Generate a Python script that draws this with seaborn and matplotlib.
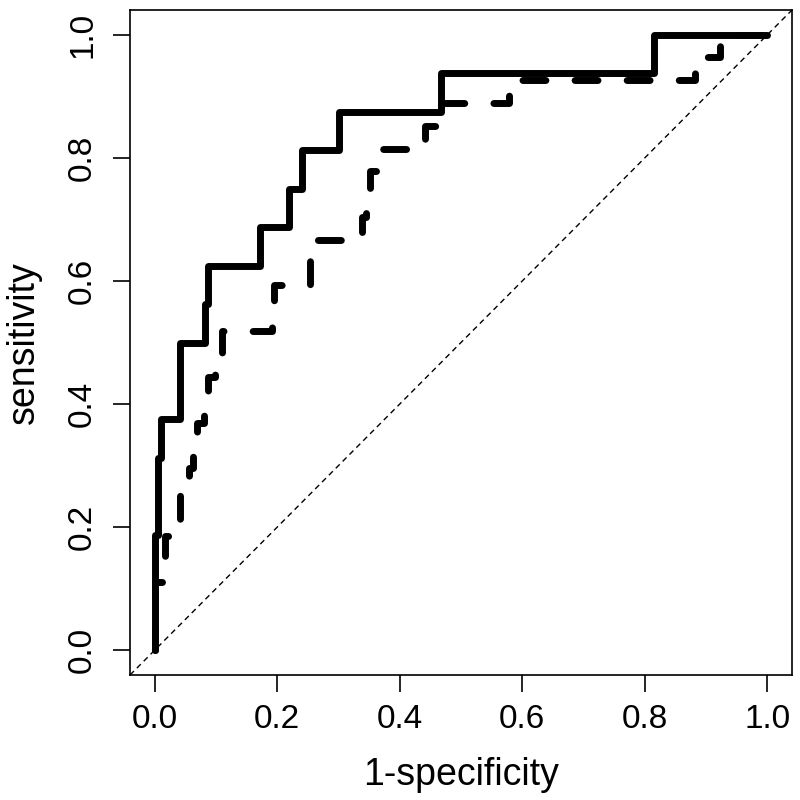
import matplotlib
matplotlib.use("Agg")
import matplotlib.pyplot as plt
import seaborn as sns
import pandas as pd

# ROC curve corner points (1-specificity, sensitivity)
fpr_solid = [0.0, 0.0, 0.005, 0.01, 0.042, 0.083, 0.088, 0.172, 0.22, 0.241, 0.301, 0.468, 0.815, 1.0]
tpr_solid = [0.0, 0.1875, 0.3125, 0.375, 0.5, 0.5625, 0.625, 0.6875, 0.75, 0.8125, 0.875, 0.9375, 1.0, 1.0]

fpr_dashed = [0.0, 0.0, 0.017, 0.042, 0.057, 0.062, 0.07, 0.08, 0.087, 0.098, 0.11, 0.192, 0.195,
              0.254, 0.338, 0.345, 0.352, 0.364, 0.442, 0.468, 0.579, 0.882, 0.922, 1.0]
tpr_dashed = [0.0, 0.111, 0.185, 0.259, 0.296, 0.333, 0.370, 0.407, 0.444, 0.481, 0.519, 0.556, 0.593,
              0.667, 0.704, 0.741, 0.778, 0.815, 0.852, 0.889, 0.926, 0.963, 1.0, 1.0]

ticks = [0.0, 0.2, 0.4, 0.6, 0.8, 1.0]
tick_labels = ["0.0", "0.2", "0.4", "0.6", "0.8", "1.0"]

sns.set_theme(style="ticks")
plt.rcParams["font.family"] = ["Liberation Sans", "DejaVu Sans"]

fig = plt.figure(figsize=(8, 8), dpi=100)
ax = fig.add_axes([0.1625, 0.15625, 0.99 - 0.1625, 0.9875 - 0.15625])

df_s = pd.DataFrame({"fpr": fpr_solid, "tpr": tpr_solid})
df_d = pd.DataFrame({"fpr": fpr_dashed, "tpr": tpr_dashed})

sns.lineplot(data=df_d, x="fpr", y="tpr", ax=ax, estimator=None, sort=False,
             drawstyle="steps-post", color="black", linewidth=5,
             linestyle=(0, (3.3, 4.2)), dash_capstyle="round", solid_joinstyle="round")
sns.lineplot(data=df_s, x="fpr", y="tpr", ax=ax, estimator=None, sort=False,
             drawstyle="steps-post", color="black", linewidth=5,
             solid_capstyle="round", solid_joinstyle="round")
ax.axline((0, 0), (1, 1), color="black", linewidth=1, linestyle=(0, (4, 3)))

ax.set_xlim(-0.04, 1.04)
ax.set_ylim(-0.04, 1.04)
ax.set_xticks(ticks)
ax.set_xticklabels(tick_labels)
ax.set_yticks(ticks)
ax.set_yticklabels(tick_labels, rotation=90, va="center")
ax.tick_params(axis="both", direction="out", length=12, width=1.2, color="black",
               labelsize=24, labelcolor="black")
ax.tick_params(axis="x", pad=9)
ax.tick_params(axis="y", pad=11)
for sp in ax.spines.values():
    sp.set_visible(True)
    sp.set_color("black")
    sp.set_linewidth(1.2)

ax.set_xlabel("1-specificity", fontsize=27, color="black", labelpad=16)
ax.set_ylabel("sensitivity", fontsize=27, color="black", labelpad=18)

fig.savefig("out.png", dpi=100, facecolor="white")
